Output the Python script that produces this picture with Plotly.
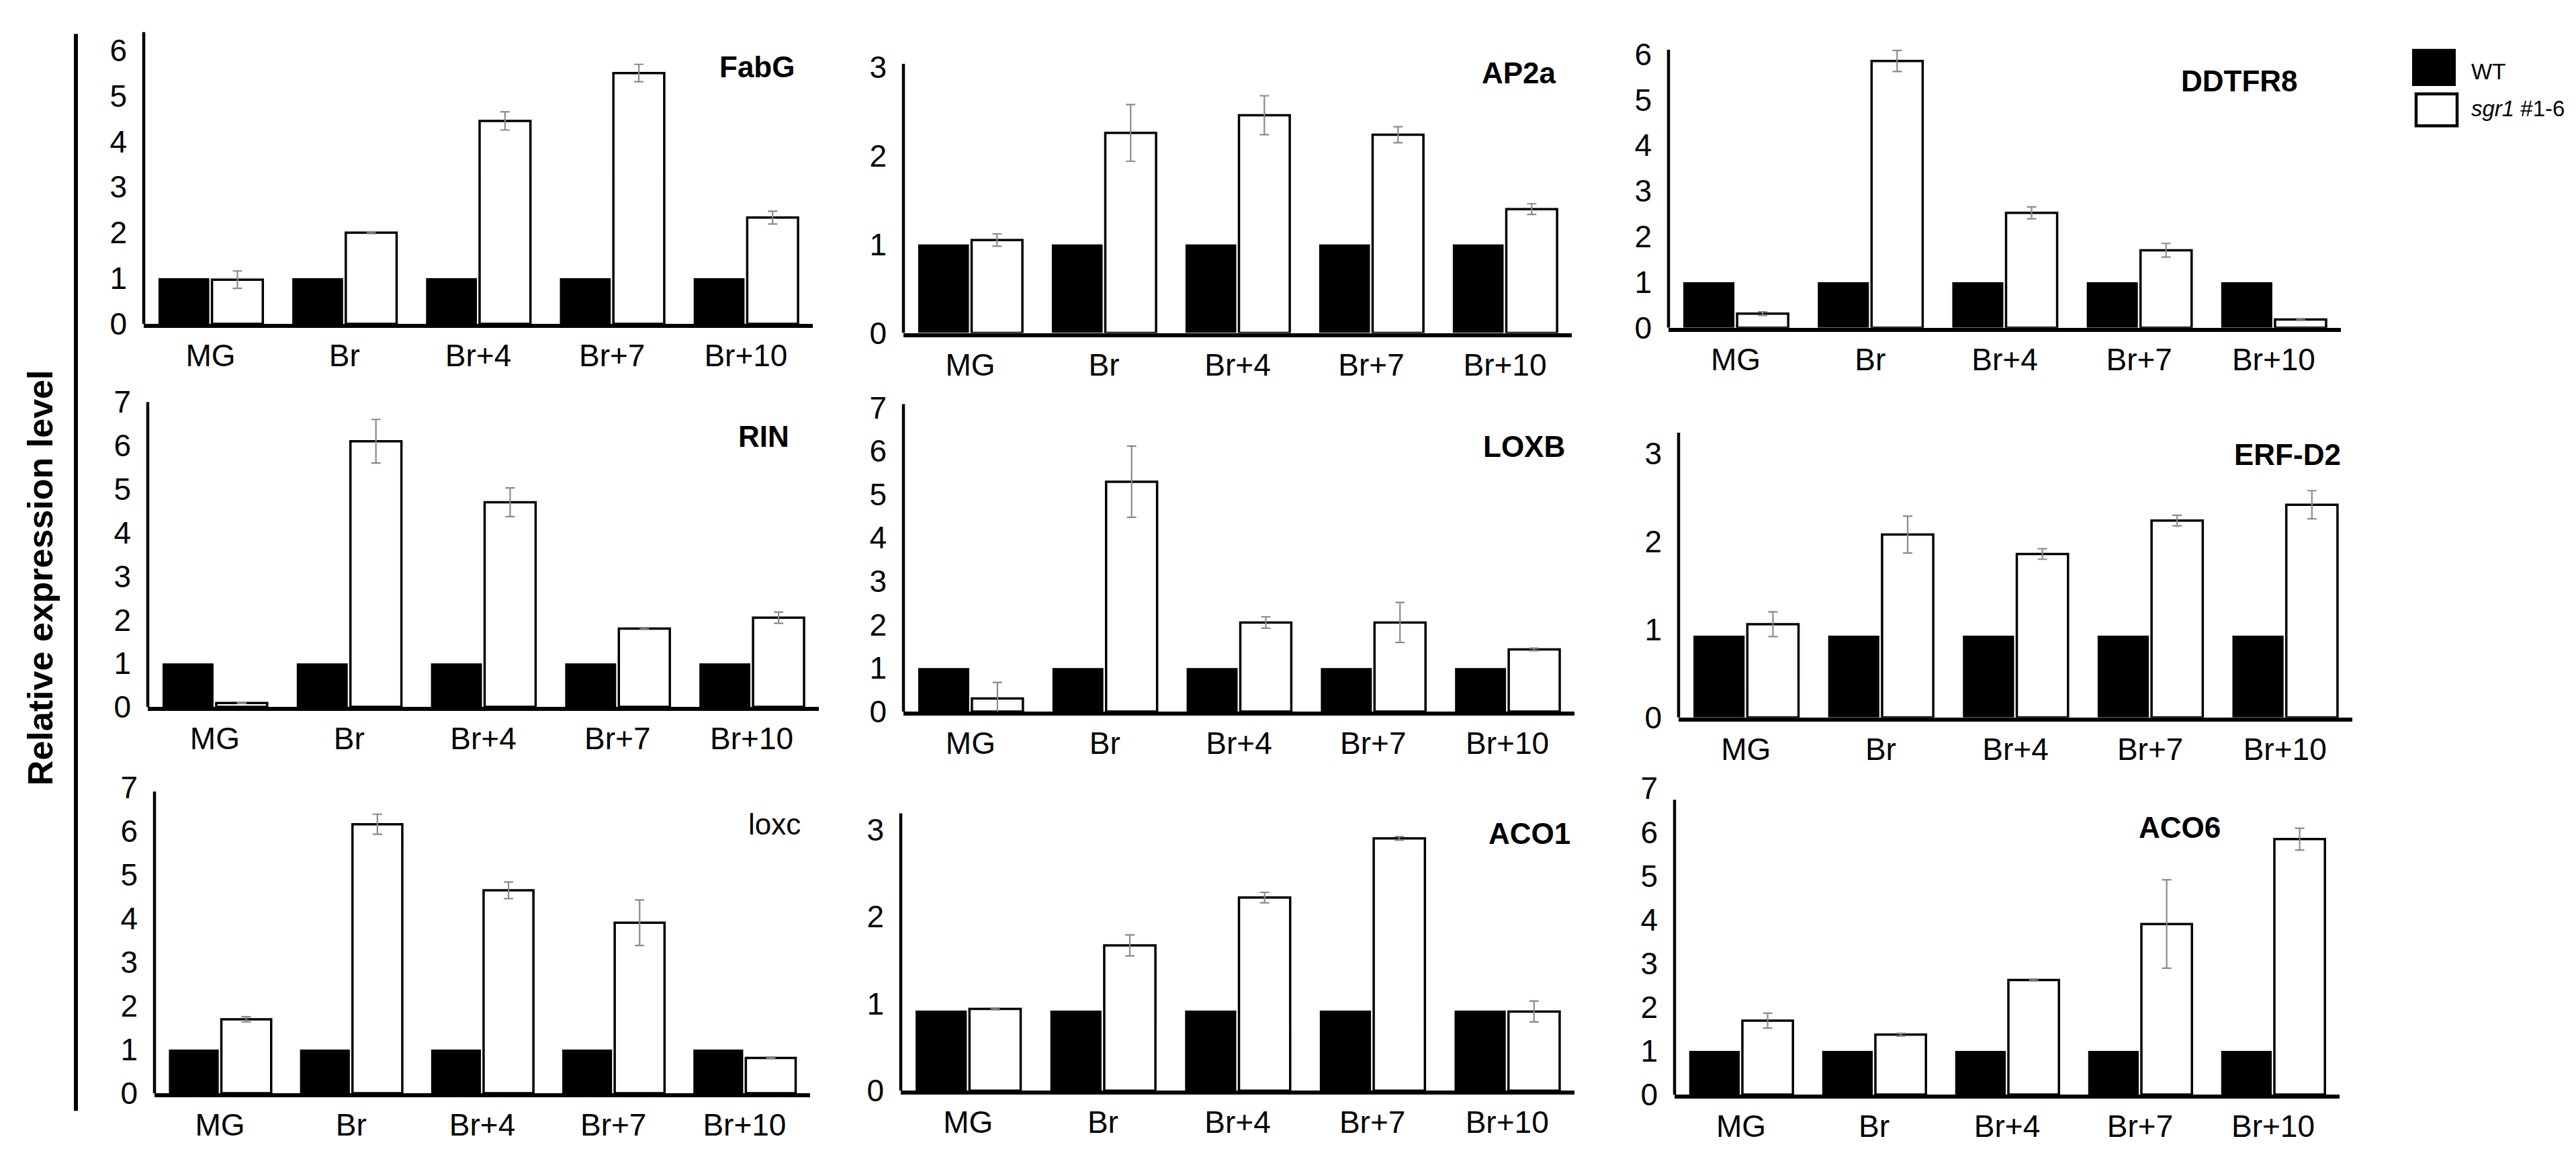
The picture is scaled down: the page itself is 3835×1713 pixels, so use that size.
import plotly.graph_objects as go

W, H = 3835, 1713
FONT = "Liberation Sans, Arial, sans-serif"

categories = ["MG", "Br", "Br+4", "Br+7", "Br+10"]
series_names = ["WT", "sgr1 #1-6"]

# ---- data ----
fabg_wt = [1, 1, 1, 1, 1]
fabg_sgr1 = [0.97, 2.0, 4.45, 5.5, 2.33]
fabg_err = [0.19, 0.02, 0.2, 0.19, 0.14]

ap2a_wt = [1, 1, 1, 1, 1]
ap2a_sgr1 = [1.05, 2.26, 2.46, 2.24, 1.40]
ap2a_err = [0.07, 0.32, 0.22, 0.09, 0.06]

ddtfr8_wt = [1, 1, 1, 1, 1]
ddtfr8_sgr1 = [0.31, 5.85, 2.52, 1.70, 0.18]
ddtfr8_err = [0.04, 0.23, 0.13, 0.15, 0.02]

rin_wt = [1, 1, 1, 1, 1]
rin_sgr1 = [0.09, 6.1, 4.7, 1.8, 2.05]
rin_err = [0.01, 0.5, 0.33, 0.02, 0.13]

loxb_wt = [1, 1, 1, 1, 1]
loxb_sgr1 = [0.30, 5.29, 2.05, 2.05, 1.43]
loxb_err = [0.37, 0.82, 0.13, 0.46, 0.03]

erfd2_wt = [0.93, 0.93, 0.93, 0.93, 0.93]
erfd2_sgr1 = [1.06, 2.08, 1.86, 2.24, 2.42]
erfd2_err = [0.14, 0.21, 0.06, 0.06, 0.16]

loxc_wt = [1, 1, 1, 1, 1]
loxc_sgr1 = [1.69, 6.15, 4.64, 3.90, 0.81]
loxc_err = [0.06, 0.23, 0.19, 0.52, 0.02]

aco1_wt = [0.92, 0.92, 0.92, 0.92, 0.92]
aco1_sgr1 = [0.94, 1.67, 2.22, 2.90, 0.91]
aco1_err = [0.01, 0.12, 0.06, 0.02, 0.12]

aco6_wt = [1, 1, 1, 1, 1]
aco6_sgr1 = [1.69, 1.37, 2.62, 3.90, 5.84]
aco6_err = [0.17, 0.03, 0.02, 1.01, 0.25]

genes = ["FabG", "AP2a", "DDTFR8", "RIN", "LOXB", "ERF-D2", "loxc", "ACO1", "ACO6"]
wt_data = [fabg_wt, ap2a_wt, ddtfr8_wt, rin_wt, loxb_wt, erfd2_wt, loxc_wt, aco1_wt, aco6_wt]
sgr1_data = [fabg_sgr1, ap2a_sgr1, ddtfr8_sgr1, rin_sgr1, loxb_sgr1, erfd2_sgr1,
             loxc_sgr1, aco1_sgr1, aco6_sgr1]
err_data = [fabg_err, ap2a_err, ddtfr8_err, rin_err, loxb_err, erfd2_err,
            loxc_err, aco1_err, aco6_err]
y_range_max = [6.4, 3.04, 6.1, 7.0, 7.08, 3.24, 7.0, 3.19, 7.0]
y_axis_top = [6.4, 3.04, 6.1, 7.0, 7.08, 3.24, 6.9, 3.19, 6.74]
title_bold = [True, True, True, True, True, True, False, True, True]

# ---- layout geometry (pixels) ----
# x0, x1, top, base
boxes = [
    (206, 1202, 14, 462), (1337, 2332, 63, 476), (2476, 3477, 41, 468),
    (212, 1211, 582, 1050), (1337, 2336, 585, 1057), (2491, 3494, 629, 1066),
    (222, 1198, 1173, 1643), (1333, 2336, 1213, 1639), (2485, 3475, 1175, 1645),
]
title_pos = [(1177, 68), (2311, 77), (3415, 89), (1169, 635), (2324, 650), (3479, 663),
             (1186, 1230), (2332, 1244), (3300, 1235)]


def px(x):
    return x / W


def py(y):
    return 1 - y / H


fig = go.Figure()
shapes = []
annotations = []
layout_axes = {}

for i, gene in enumerate(genes):
    n = "" if i == 0 else str(i + 1)
    xa, ya = "x" + n, "y" + n
    fig.add_trace(go.Bar(
        x=categories, y=wt_data[i], name=series_names[0], xaxis=xa, yaxis=ya,
        marker=dict(color="black", line=dict(width=0)), showlegend=False,
    ))
    fig.add_trace(go.Bar(
        x=categories, y=sgr1_data[i], name=series_names[1], xaxis=xa, yaxis=ya,
        marker=dict(color="white", line=dict(color="black", width=3.5)), showlegend=False,
        error_y=dict(type="data", array=err_data[i], color="#8a8a8a", thickness=2.2, width=7),
    ))
    x0, x1, top, base = boxes[i]
    layout_axes["xaxis" + n] = dict(
        domain=[px(x0), px(x1)], anchor=ya, showline=True, linecolor="black", linewidth=6,
        showgrid=False, zeroline=False, ticks="", type="category",
        tickfont=dict(family=FONT, size=46, color="black"), ticklabelstandoff=2,
        fixedrange=True,
    )
    layout_axes["yaxis" + n] = dict(
        domain=[py(base), py(top)], anchor=xa, range=[0, y_range_max[i]],
        showline=False, showgrid=False, zeroline=False, ticks="", dtick=1, tick0=0,
        tickfont=dict(family=FONT, size=46, color="black"), ticklabelstandoff=24,
        fixedrange=True,
    )
    shapes.append(dict(type="line", xref=xa + " domain", yref=ya, x0=0, x1=0,
                       y0=0, y1=y_axis_top[i], line=dict(color="black", width=4.5)))
    tx, tyc = title_pos[i]
    txt = f"<b>{gene}</b>" if title_bold[i] else gene
    annotations.append(dict(text=txt, xref="paper", yref="paper", x=px(tx), y=py(tyc),
                            xanchor="right", yanchor="middle", showarrow=False,
                            font=dict(family=FONT, size=44, color="black")))

# outer vertical line next to y title
shapes.append(dict(type="line", xref="paper", yref="paper", x0=px(105), x1=px(105),
                   y0=py(17), y1=py(1670), line=dict(color="black", width=6)))

# y title
annotations.append(dict(text="<b>Relative expression level</b>", xref="paper", yref="paper",
                        x=px(52), y=py(852), xanchor="center", yanchor="middle",
                        textangle=-90, showarrow=False,
                        font=dict(family=FONT, size=52, color="black")))

# legend (drawn manually)
shapes.append(dict(type="rect", xref="paper", yref="paper", x0=px(3583), x1=px(3648),
                   y0=py(97), y1=py(40), fillcolor="black", line=dict(width=0)))
shapes.append(dict(type="rect", xref="paper", yref="paper", x0=px(3589), x1=px(3650),
                   y0=py(158), y1=py(109), fillcolor="white",
                   line=dict(color="black", width=4.5)))
annotations.append(dict(text="WT", xref="paper", yref="paper", x=px(3670), y=py(75),
                        xanchor="left", yanchor="middle", showarrow=False, borderpad=0,
                        font=dict(family=FONT, size=33, color="black")))
annotations.append(dict(text="<i>sgr1</i> #1-6", xref="paper", yref="paper", x=px(3670),
                        y=py(132), xanchor="left", yanchor="middle", showarrow=False,
                        borderpad=0, font=dict(family=FONT, size=33, color="black")))

fig.update_layout(
    width=W, height=H, margin=dict(l=0, r=0, t=0, b=0),
    paper_bgcolor="white", plot_bgcolor="white",
    barmode="group", bargap=0.2, bargroupgap=0.05,
    shapes=shapes, annotations=annotations,
    font=dict(family=FONT, color="black"),
    **layout_axes,
)

fig.write_html("out.html")
